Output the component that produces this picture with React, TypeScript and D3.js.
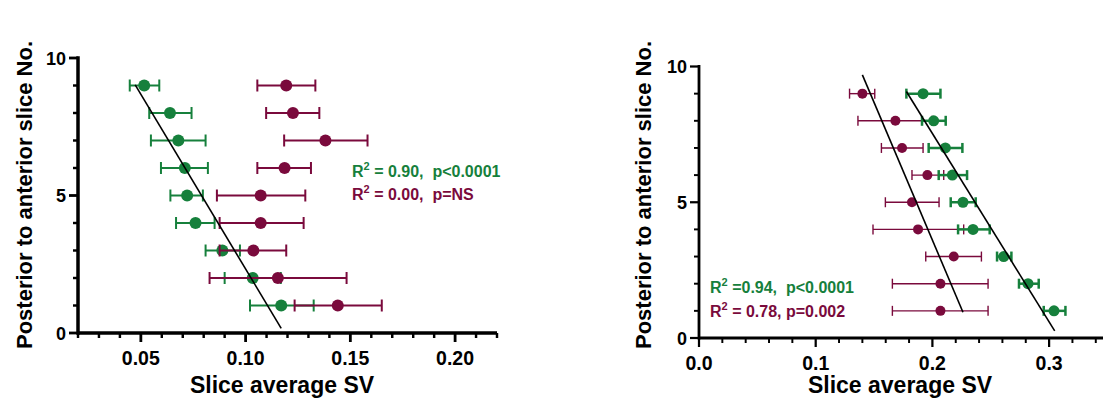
import React from 'react';
import * as d3 from 'd3';

// ---------- data ----------
const slices = [9, 8, 7, 6, 5, 4, 3, 2, 1];

// Left panel
const leftGreenMean = [0.0516, 0.0639, 0.0679, 0.071, 0.0721, 0.0761, 0.0889, 0.1034, 0.117];
const leftGreenLo = [0.0447, 0.054, 0.0548, 0.0596, 0.0641, 0.0668, 0.0809, 0.09, 0.1021];
const leftGreenHi = [0.0588, 0.0742, 0.0809, 0.082, 0.0796, 0.0852, 0.0973, 0.1168, 0.1325];
const leftMaroonMean = [0.1194, 0.1226, 0.1381, 0.1186, 0.1072, 0.1072, 0.1037, 0.1154, 0.144];
const leftMaroonLo = [0.1056, 0.1098, 0.1184, 0.1056, 0.0863, 0.0876, 0.0876, 0.0828, 0.1234];
const leftMaroonHi = [0.1333, 0.1352, 0.1582, 0.1312, 0.1285, 0.1277, 0.1194, 0.1482, 0.165];
const leftFitX = [0.0473, 0.117];
const leftFitY = [9.02, 0.17];
const leftXMajor = [0.05, 0.1, 0.15, 0.2];
const leftXDomain = [0.02, 0.22];

// Right panel
const rightGreenMean = [0.192, 0.2011, 0.2111, 0.2171, 0.2262, 0.2348, 0.2611, 0.2819, 0.3042];
const rightGreenLo = [0.1777, 0.1911, 0.1968, 0.2054, 0.2157, 0.222, 0.2554, 0.2742, 0.2954];
const rightGreenHi = [0.2069, 0.2114, 0.2257, 0.2297, 0.2371, 0.2491, 0.2677, 0.2911, 0.314];
const rightMaroonMean = [0.14, 0.1683, 0.174, 0.1957, 0.1825, 0.1877, 0.2183, 0.2069, 0.2069];
const rightMaroonLo = [0.129, 0.1362, 0.1563, 0.1825, 0.1597, 0.1491, 0.1943, 0.1657, 0.1657];
const rightMaroonHi = [0.1506, 0.1997, 0.192, 0.2097, 0.2057, 0.2268, 0.242, 0.2477, 0.2477];
const rightGreenFitX = [0.1777, 0.3048];
const rightGreenFitY = [9.08, 0.26];
const rightMaroonFitX = [0.14, 0.2262];
const rightMaroonFitY = [9.69, 0.95];
const rightXMajor = [0, 0.1, 0.2, 0.3];
const rightXDomain = [0, 0.35];

const yMajor = [0, 5, 10];
const yDomain = [0, 10];

const GREEN = '#16803c';
const MAROON = '#7a0a3c';
const FONT = '"Liberation Sans", Arial, Helvetica, sans-serif';

type Series = { mean: number[]; lo: number[]; hi: number[]; color: string; r: number; sw: number; cap: number };

function Panel(props: {
  xRange: [number, number];
  yRange: [number, number];
  xDomain: number[];
  xMajor: number[];
  xMinorStep: number;
  xFmt: string;
  axisW: number;
  series: Series[];
  fits: { x: number[]; y: number[] }[];
  ytitleX: number;
  xtitleX: number;
  annotations: { x: number; y: number; color: string; post: string }[];
  axisEndX: number;
}) {
  const x = d3.scaleLinear().domain(props.xDomain).range(props.xRange);
  const y = d3.scaleLinear().domain(yDomain).range(props.yRange);
  const x0 = props.xRange[0];
  const y0 = props.yRange[0];
  const fmt = d3.format(props.xFmt);
  const minorX = d3.range(props.xDomain[0], props.xDomain[1] + 1e-9, props.xMinorStep)
    .filter((v) => x(v) <= props.axisEndX + 0.5 && !props.xMajor.some((m) => Math.abs(m - v) < 1e-9));
  const minorY = d3.range(0, 11, 1).filter((v) => !yMajor.includes(v));
  const line = d3.line<[number, number]>().x((d) => x(d[0])).y((d) => y(d[1]));
  return (
    <g>
      {props.series.map((s, si) => (
        <g key={si}>
          {slices.map((sl, i) => {
            const cy = y(sl);
            return (
              <g key={i}>
                <line x1={x(s.lo[i])} x2={x(s.hi[i])} y1={cy} y2={cy} stroke={s.color} strokeWidth={s.sw} />
                <line x1={x(s.lo[i])} x2={x(s.lo[i])} y1={cy - s.cap} y2={cy + s.cap} stroke={s.color} strokeWidth={s.sw} />
                <line x1={x(s.hi[i])} x2={x(s.hi[i])} y1={cy - s.cap} y2={cy + s.cap} stroke={s.color} strokeWidth={s.sw} />
                <circle cx={x(s.mean[i])} cy={cy} r={s.r} fill={s.color} />
              </g>
            );
          })}
        </g>
      ))}
      {props.fits.map((f, i) => (
        <path key={i} d={line([[f.x[0], f.y[0]], [f.x[1], f.y[1]]]) || ''} stroke="#000" strokeWidth={1.6} fill="none" />
      ))}
      <line x1={x0} x2={props.axisEndX} y1={y0} y2={y0} stroke="#000" strokeWidth={props.axisW} />
      <line x1={x0} x2={x0} y1={y0 + props.axisW / 2} y2={y(10) - props.axisW / 2} stroke="#000" strokeWidth={props.axisW} />
      {props.xMajor.map((v) => (
        <g key={'xm' + v}>
          <line x1={x(v)} x2={x(v)} y1={y0} y2={y0 + 9} stroke="#000" strokeWidth={props.axisW * 0.8} />
          <text x={x(v)} y={y0 + 32} textAnchor="middle" fontSize={19.5} fontWeight="bold" fontFamily={FONT}>
            {fmt(v)}
          </text>
        </g>
      ))}
      {minorX.map((v, i) => (
        <line key={'xn' + i} x1={x(v)} x2={x(v)} y1={y0} y2={y0 + 5} stroke="#000" strokeWidth={props.axisW * 0.7} />
      ))}
      {yMajor.map((v) => (
        <g key={'ym' + v}>
          <line x1={x0} x2={x0 - 9} y1={y(v)} y2={y(v)} stroke="#000" strokeWidth={props.axisW * 0.8} />
          <text x={x0 - 12} y={y(v) + 6.5} textAnchor="end" fontSize={18} fontWeight="bold" fontFamily={FONT}>
            {v}
          </text>
        </g>
      ))}
      {minorY.map((v) => (
        <line key={'yn' + v} x1={x0} x2={x0 - 5} y1={y(v)} y2={y(v)} stroke="#000" strokeWidth={props.axisW * 0.7} />
      ))}
      <text
        transform={`translate(${props.ytitleX},195) rotate(-90)`}
        textAnchor="middle"
        fontSize={22}
        fontWeight="bold"
        fontFamily={FONT}
      >
        Posterior to anterior slice No.
      </text>
      <text x={props.xtitleX} y={393} textAnchor="middle" fontSize={23} fontWeight="bold" fontFamily={FONT}>
        Slice average SV
      </text>
      {props.annotations.map((a, i) => (
        <text key={i} x={a.x} y={a.y} fontSize={16} fontWeight="bold" fontFamily={FONT} fill={a.color} xmlSpace="preserve">
          <tspan>R</tspan>
          <tspan fontSize={11} dy={-7}>2</tspan>
          <tspan dy={7}>{a.post}</tspan>
        </text>
      ))}
    </g>
  );
}

export default function App() {
  return (
    <svg width={1103} height={405} style={{ position: 'absolute', left: 0, top: 0, background: '#fff' }}>
      <Panel
        xRange={[78, 497]}
        yRange={[333, 58]}
        xDomain={leftXDomain}
        xMajor={leftXMajor}
        xMinorStep={0.01}
        xFmt=".2f"
        axisW={3.5}
        axisEndX={497}
        series={[
          { mean: leftGreenMean, lo: leftGreenLo, hi: leftGreenHi, color: GREEN, r: 6, sw: 2, cap: 6 },
          { mean: leftMaroonMean, lo: leftMaroonLo, hi: leftMaroonHi, color: MAROON, r: 6, sw: 2, cap: 6 },
        ]}
        fits={[{ x: leftFitX, y: leftFitY }]}
        ytitleX={32}
        xtitleX={282}
        annotations={[
          { x: 352, y: 177, color: GREEN, post: ' = 0.90,  p<0.0001' },
          { x: 352, y: 200, color: MAROON, post: ' = 0.00,  p=NS' },
        ]}
      />
      <Panel
        xRange={[699, 699 + 0.35 * 1167]}
        yRange={[338, 66.5]}
        xDomain={rightXDomain}
        xMajor={rightXMajor}
        xMinorStep={0.02}
        xFmt=".1f"
        axisW={2.8}
        axisEndX={1103}
        series={[
          { mean: rightMaroonMean, lo: rightMaroonLo, hi: rightMaroonHi, color: MAROON, r: 5, sw: 1.4, cap: 5 },
          { mean: rightGreenMean, lo: rightGreenLo, hi: rightGreenHi, color: GREEN, r: 5.5, sw: 2.5, cap: 5 },
        ]}
        fits={[
          { x: rightGreenFitX, y: rightGreenFitY },
          { x: rightMaroonFitX, y: rightMaroonFitY },
        ]}
        ytitleX={651}
        xtitleX={900}
        annotations={[
          { x: 710, y: 293, color: GREEN, post: ' =0.94,  p<0.0001' },
          { x: 710, y: 317, color: MAROON, post: ' = 0.78, p=0.002' },
        ]}
      />
    </svg>
  );
}
